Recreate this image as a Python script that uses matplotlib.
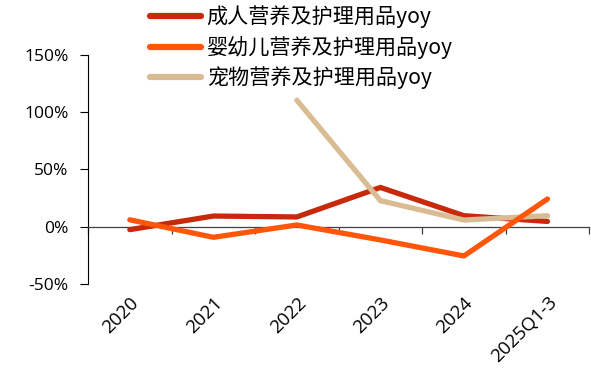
import matplotlib.pyplot as plt
import numpy as np

plt.rcParams['font.family'] = ['Noto Sans CJK SC', 'DejaVu Sans']

years = ["2020", "2021", "2022", "2023", "2024", "2025Q1-3"]
adult_yoy = [-2.6, 9.3, 8.5, 34.3, 9.6, 4.6]
infant_yoy = [6.0, -9.3, 1.5, -11.6, -25.6, 24.2]
pet_yoy = [np.nan, np.nan, 110.5, 22.7, 5.8, 9.6]

labels = ["成人营养及护理用品yoy", "婴幼儿营养及护理用品yoy", "宠物营养及护理用品yoy"]
colors = ["#C8290A", "#FF560A", "#D9BC94"]

fig = plt.figure(figsize=(5.91, 3.8), dpi=100)
ax = fig.add_axes([0.149, 0.253, 0.848, 0.602])

x = np.arange(len(years))
kw = dict(lw=3.8, solid_capstyle='round', solid_joinstyle='round')
l1, = ax.plot(x, adult_yoy, color=colors[0], label=labels[0], zorder=3, **kw)
l3, = ax.plot(x, pet_yoy, color=colors[2], label=labels[2], zorder=4, **kw)
l2, = ax.plot(x, infant_yoy, color=colors[1], label=labels[1], zorder=5, **kw)

ax.set_xlim(-0.5, len(years) - 0.5)
ax.set_ylim(-50, 150)
ax.set_yticks([-50, 0, 50, 100, 150])
ax.set_yticklabels([f"{v}%" for v in [-50, 0, 50, 100, 150]], fontsize=12.5,
                   family=['Open Sans'])
ax.tick_params(axis='y', length=6, width=0.8, direction='out', pad=8)

for s in ['top', 'right']:
    ax.spines[s].set_visible(False)
ax.spines['left'].set_color('black')
ax.spines['left'].set_linewidth(0.8)
ax.spines['bottom'].set_position(('data', 0))
ax.spines['bottom'].set_color('#404040')
ax.spines['bottom'].set_linewidth(0.9)

# ticks between categories on the zero line
ax.set_xticks(np.arange(-0.5, len(years), 1.0))
ax.set_xticklabels([])
ax.tick_params(axis='x', length=5, width=0.9, color='#404040', direction='out')

# category labels along the bottom edge
sec = ax.secondary_xaxis(0)
sec.set_xticks(x)
sec.set_xticklabels(years, rotation=45, ha='right', rotation_mode='anchor',
                    fontsize=13.5, family=['Open Sans'])
sec.tick_params(axis='x', length=0, pad=7)
sec.spines['bottom'].set_visible(False)

leg = fig.legend(handles=[l1, l2, l3], loc='upper left',
                 bbox_to_anchor=(0.221, 1.035), frameon=False,
                 fontsize=15.2, handlelength=2.45, handletextpad=0.25,
                 labelspacing=0.36)
for h in leg.get_lines():
    h.set_linewidth(4.5)

fig.savefig("out.png", dpi=100)
